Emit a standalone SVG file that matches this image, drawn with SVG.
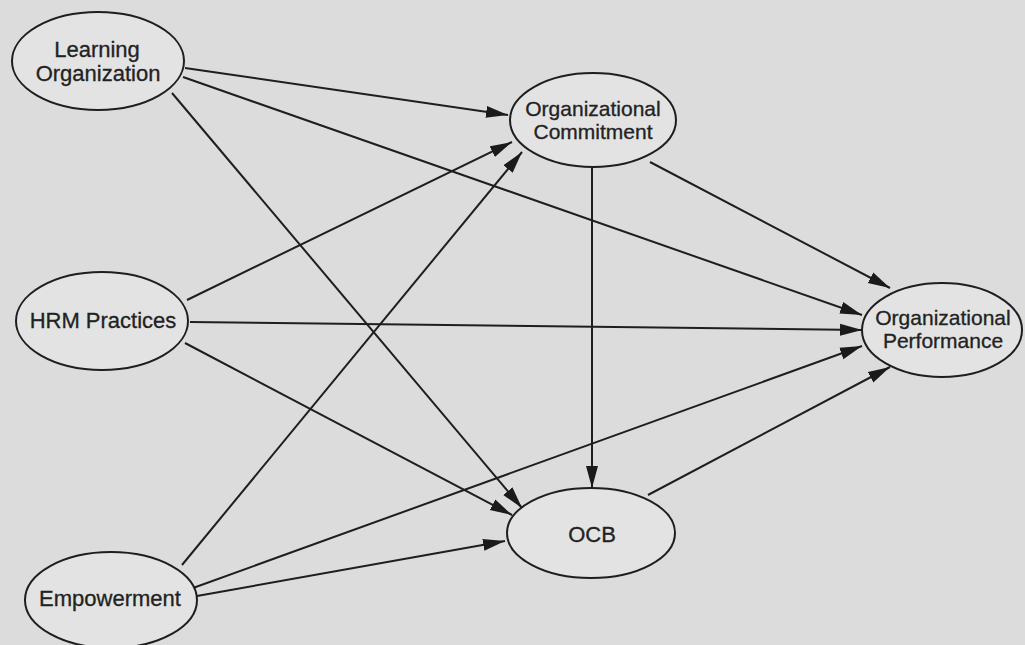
<svg xmlns="http://www.w3.org/2000/svg" width="1025" height="645" viewBox="0 0 1025 645">
<defs>
<style>
.node ellipse{fill:#e3e3e3;stroke:#1e1e1e;stroke-width:2}
.node text{font-family:"Liberation Sans",Arial,sans-serif;font-size:22px;fill:#222;stroke:#222;stroke-width:0.3;text-anchor:middle}
.node text.sm{font-size:21px}
.edges line{stroke:#1e1e1e;stroke-width:2;marker-end:url(#arr)}
</style>
<marker id="arr" markerUnits="userSpaceOnUse" markerWidth="24" markerHeight="13" refX="22" refY="6.5" orient="auto">
<path d="M0,0.5 L22,6.5 L0,12.5 Z" fill="#1a1a1a"/>
</marker>
</defs>
<rect width="1025" height="645" fill="#dcdcdc"/>
<g class="edges">
<line x1="185" y1="68" x2="508" y2="115"/>
<line x1="183" y1="77" x2="862" y2="315"/>
<line x1="172" y1="93" x2="522" y2="508"/>
<line x1="187" y1="300" x2="512" y2="142"/>
<line x1="190" y1="322" x2="862" y2="330"/>
<line x1="185" y1="343" x2="512" y2="515"/>
<line x1="182" y1="565" x2="522" y2="152"/>
<line x1="193" y1="588" x2="862" y2="346"/>
<line x1="197" y1="596" x2="505" y2="541"/>
<line x1="592" y1="168" x2="592" y2="488"/>
<line x1="650" y1="162" x2="890" y2="288"/>
<line x1="648" y1="495" x2="890" y2="367"/>
</g>
<g id="learning-organization" class="node">
<ellipse cx="98" cy="61" rx="86" ry="49"/>
<text x="97" y="57">Learning</text>
<text x="98" y="81">Organization</text>
</g>
<g id="hrm-practices" class="node">
<ellipse cx="102" cy="321" rx="86" ry="49"/>
<text x="103" y="328">HRM Practices</text>
</g>
<g id="empowerment" class="node">
<ellipse cx="111" cy="600" rx="86" ry="48"/>
<text x="110" y="606">Empowerment</text>
</g>
<g id="organizational-commitment" class="node">
<ellipse cx="593" cy="120" rx="83" ry="47"/>
<text class="sm" x="593" y="116">Organizational</text>
<text class="sm" x="593" y="139">Commitment</text>
</g>
<g id="ocb" class="node">
<ellipse cx="591" cy="533" rx="84" ry="45"/>
<text x="592" y="542">OCB</text>
</g>
<g id="organizational-performance" class="node">
<ellipse cx="942" cy="330" rx="80" ry="47"/>
<text class="sm" x="943" y="325">Organizational</text>
<text class="sm" x="943" y="348">Performance</text>
</g>
</svg>
